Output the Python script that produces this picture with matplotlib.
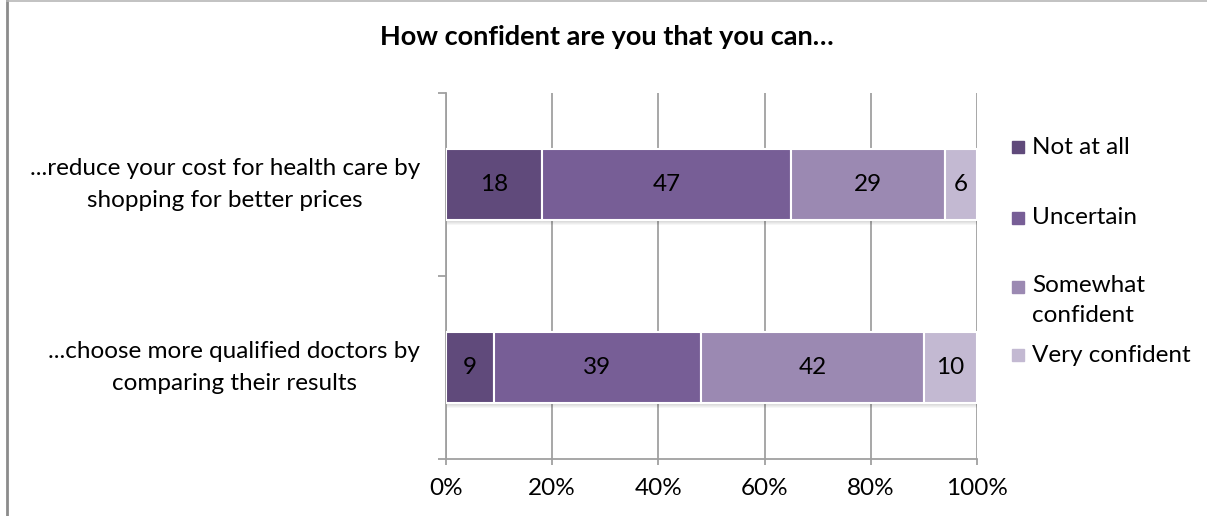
import matplotlib
matplotlib.use("Agg")
import matplotlib.pyplot as plt
from matplotlib.patches import Rectangle
from matplotlib.lines import Line2D
import numpy as np

plt.rcParams['font.family'] = ['Lato', 'DejaVu Sans']

# Survey data (percent of respondents)
categories = [
    "...reduce your cost for health care by\nshopping for better prices",
    "...choose more qualified doctors by\ncomparing their results",
]
series_names = ["Not at all", "Uncertain", "Somewhat\nconfident", "Very confident"]
not_at_all = [18, 9]
uncertain = [47, 39]
somewhat_confident = [29, 42]
very_confident = [6, 10]
series_values = [not_at_all, uncertain, somewhat_confident, very_confident]
colors = ["#604A7B", "#775E96", "#9B89B2", "#C3B9D2"]
x_ticks = [0, 20, 40, 60, 80, 100]
x_tick_labels = ["0%", "20%", "40%", "60%", "80%", "100%"]
title = "How confident are you that you can\u2026"

W, H = 1207, 516
fig = plt.figure(figsize=(W / 100, H / 100), dpi=100)

def fx(px):
    return px / W

def fy(py):
    return 1 - py / H

ax = fig.add_axes([fx(446), fy(459), fx(977) - fx(446), fy(93) - fy(459)])

# first category sits on top
ypos = np.arange(len(categories))[::-1].astype(float)
bar_h = 0.39
fsz = 17.5

# soft drop shadow under each bar
totals = np.sum(series_values, axis=0)
for k in range(1, 6):
    ax.barh(ypos - 0.0055 * k, totals, height=bar_h, left=0,
            color="black", alpha=0.035, zorder=2, linewidth=0)

left = np.zeros(len(categories))
for vals, col in zip(series_values, colors):
    vals = np.asarray(vals, dtype=float)
    bars = ax.barh(ypos, vals, height=bar_h, left=left, color=col,
                   edgecolor="white", linewidth=1.5, zorder=3)
    for b, v in zip(bars, vals):
        ax.text(b.get_x() + b.get_width() / 2, b.get_y() + b.get_height() / 2,
                f"{int(v)}", ha="center", va="center", fontsize=fsz,
                color="black", zorder=4)
    left += vals

ax.set_xlim(0, 100)
ax.set_ylim(-0.5, 1.5)

grid_col = "#A0A0A0"
ax.set_xticks(x_ticks)
ax.set_xticklabels(x_tick_labels, fontsize=fsz)
ax.xaxis.grid(True, color=grid_col, linewidth=1.3, zorder=1)
ax.set_axisbelow(True)
ax.set_yticks([-0.5, 0.5, 1.5])
ax.set_yticklabels([])
ax.tick_params(axis="y", length=6, width=1.3, color=grid_col, direction="out")
ax.tick_params(axis="x", length=4, width=1.3, color=grid_col, direction="out", pad=10)

for side in ("top", "right"):
    ax.spines[side].set_visible(False)
for side in ("left", "bottom"):
    ax.spines[side].set_color(grid_col)
    ax.spines[side].set_linewidth(1.3)

# category labels, centred lines, right edge near the axis
for y, lab in zip(ypos, categories):
    ax.text(-0.049, y, lab, transform=ax.get_yaxis_transform(),
            ha="right", va="center", multialignment="center",
            fontsize=fsz, linespacing=1.6)

fig.text(fx(607), fy(37), title, ha="center", va="center",
         fontsize=19.5, fontweight="bold")

# legend
leg_y = [147, 218, 287, 355]
for name, col, yy in zip(series_names, colors, leg_y):
    fig.patches.append(Rectangle((fx(1012), fy(yy + 6)), fx(12), 12 / H,
                                 transform=fig.transFigure, color=col))
    if "\n" in name:
        fig.text(fx(1032), fy(yy - 12), name, ha="left", va="top",
                 fontsize=fsz, linespacing=1.55)
    else:
        fig.text(fx(1032), fy(yy), name, ha="left", va="center", fontsize=fsz)

# chart frame edges
fig.add_artist(Line2D([fx(7), fx(7)], [0, 1], color="#8C8C8C", linewidth=2,
                      transform=fig.transFigure))
fig.add_artist(Line2D([fx(7), 1], [fy(0.5), fy(0.5)], color="#B8B8B8", linewidth=1.2,
                      transform=fig.transFigure))

fig.savefig("out.png", dpi=100, facecolor="white")
